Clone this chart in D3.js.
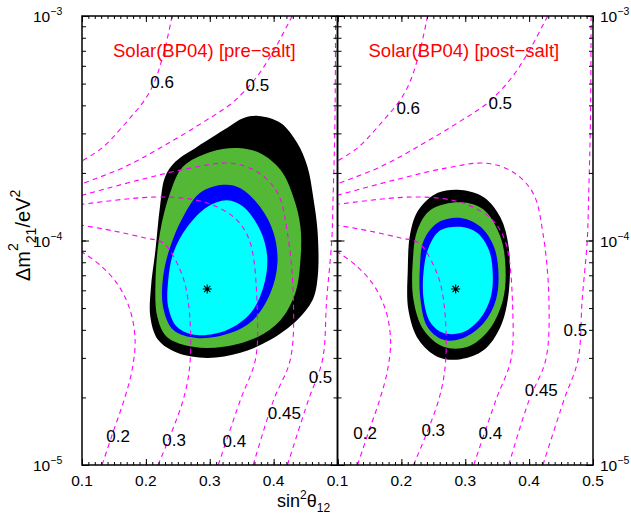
<!DOCTYPE html>
<html>
<head>
<meta charset="utf-8">
<script src="https://cdn.jsdelivr.net/npm/d3@7"></script>
<style>
body { margin: 0; background: #fff; }
svg text { font-family: "Liberation Sans", Arial, Helvetica, sans-serif; }
</style>
</head>
<body>
<svg id="chart" width="631" height="515"></svg>
<script>
/* === Solar allowed regions, pre/post salt (D3 v7) === */

// x = sin^2(theta12), y = dm^2_21 in units of 1e-5 eV^2
var PANEL_TITLES = ['Solar(BP04) [pre\u2212salt]', 'Solar(BP04) [post\u2212salt]'];
var X_LABELS = [[0.1, 0.2, 0.3, 0.4], [0.1, 0.2, 0.3, 0.4, 0.5]];
var Y_LABELS = [1e-5, 1e-4, 1e-3];
var Y_EXP = ['\u22125', '\u22124', '\u22123'];
var BEST_FIT = [[0.296, 6.08], [0.285, 6.08]];

// allowed regions, pre-salt (99.73, 99, 95, 90 % CL)
var PRE_9973 = [[0.376,35.9],[0.411,33.4],[0.437,27.2],[0.453,21.3],[0.462,15.6],[0.469,10.8],[0.469,6.88],[0.461,5.43],[0.437,4.43],[0.395,3.61],[0.348,3.16],[0.296,3.00],[0.249,3.16],[0.219,3.61],[0.207,4.56],[0.208,6.21],[0.215,9.07],[0.222,14.1],[0.230,19.2],[0.246,22.4],[0.280,26.1],[0.327,31.7],[0.353,35.1]];
var PRE_99 = [[0.343,25.8],[0.379,24.5],[0.411,20.6],[0.431,15.6],[0.442,11.5],[0.442,8.19],[0.434,5.84],[0.411,4.43],[0.375,3.72],[0.321,3.36],[0.274,3.36],[0.233,3.72],[0.218,4.56],[0.215,6.47],[0.222,10.8],[0.238,16.3],[0.258,21.3],[0.301,24.8]];
var PRE_95 = [[0.321,17.7],[0.348,17.1],[0.379,14.1],[0.400,10.8],[0.406,7.94],[0.395,5.84],[0.368,4.43],[0.332,3.87],[0.280,3.68],[0.243,3.99],[0.227,5.06],[0.227,6.88],[0.238,9.35],[0.258,12.7],[0.285,16.3]];
var PRE_90 = [[0.327,15.1],[0.353,14.1],[0.379,11.1],[0.390,8.44],[0.384,6.21],[0.364,4.75],[0.327,3.99],[0.280,3.79],[0.249,4.12],[0.235,5.06],[0.235,6.67],[0.243,8.80],[0.265,11.5],[0.296,14.1]];

// allowed regions, post-salt
var POST_9973 = [[0.293,16.8],[0.329,15.6],[0.355,12.7],[0.368,9.35],[0.368,5.84],[0.355,4.12],[0.329,3.25],[0.293,2.96],[0.257,3.03],[0.227,3.61],[0.211,4.90],[0.210,7.39],[0.214,10.8],[0.227,13.7],[0.257,16.3]];
var POST_99 = [[0.293,14.8],[0.329,13.7],[0.355,10.4],[0.363,7.62],[0.359,5.43],[0.337,3.99],[0.304,3.36],[0.266,3.36],[0.235,3.99],[0.219,5.43],[0.218,8.19],[0.225,11.1],[0.246,13.7]];
var POST_95 = [[0.293,12.6],[0.324,11.5],[0.345,9.35],[0.352,7.17],[0.348,5.43],[0.329,4.29],[0.297,3.68],[0.266,3.61],[0.241,4.12],[0.230,5.43],[0.229,7.62],[0.235,10.0],[0.257,12.0]];
var POST_90 = [[0.293,11.5],[0.319,10.8],[0.337,9.07],[0.343,7.17],[0.340,5.60],[0.324,4.52],[0.297,3.91],[0.266,3.87],[0.246,4.29],[0.235,5.43],[0.235,7.39],[0.243,9.35],[0.261,11.1]];

var CL_COLORS = ['#000000', '#52b836', '#0000ff', '#00ffff'];

// iso-contours (dashed)
var ISO_060 = [[0.241,100],[0.2255,64.3],[0.205,45.4],[0.1627,32.0],[0.131,25.8],[0.1,22.6]];
var ISO_050_TOP = [[0.429,100],[0.398,68.4],[0.371,52.4],[0.335,41.0],[0.293,34.1],[0.230,26.6],[0.1675,21.3],[0.1,17.9]];
var ISO_050_RIGHT = [[0.4216,1.0],[0.4545,1.948],[0.4765,2.94],[0.483,5.43],[0.491,10.0],[0.493,15.1],[0.496,34.4],[0.497,100]];
var ISO_045 = [[0.368,1.0],[0.400,1.948],[0.426,2.94],[0.431,5.43],[0.4216,10.8],[0.406,16.3],[0.3745,20.2],[0.332,22.1],[0.2694,21.0],[0.1894,18.6],[0.1,15.9]];
var ISO_040 = [[0.3133,1.0],[0.348,1.948],[0.3714,2.94],[0.3745,4.75],[0.3635,9.75],[0.343,12.3],[0.312,14.1],[0.280,15.1],[0.238,15.6],[0.191,15.5],[0.1,14.5]];
var ISO_030 = [[0.219,1.0],[0.2584,1.948],[0.2694,2.94],[0.266,5.43],[0.2537,7.39],[0.227,9.75],[0.1988,10.26],[0.1518,11.0],[0.1,11.7]];
var ISO_020 = [[0.1314,1.0],[0.1486,1.40],[0.1659,1.948],[0.1784,2.65],[0.1831,3.61],[0.1753,4.90],[0.1565,6.34],[0.1282,7.78],[0.1,8.89]];

// iso labels: text, [sin2, dm2] for each panel
var ISO_TEXT = ['0.6', '0.5', '0.5', '0.45', '0.4', '0.3', '0.2'];
var ISO_AT_PRE = [[0.2255,50.8],[0.3745,49.3],[0.4733,2.47],[0.4169,1.71],[0.3384,1.28],[0.2443,1.29],[0.1565,1.35]];
var ISO_AT_POST = [[0.2107,38.9],[0.3548,41.0],[0.4723,3.99],[0.419,2.16],[0.3392,1.39],[0.2499,1.43],[0.1433,1.39]];

var svg = d3.select('#chart');
var defs = svg.append('defs');

var y = d3.scaleLog().domain([1e-5, 1e-3]).range([465, 16]);
var panelRanges = [[82, 337.5], [337.5, 593]];
var regions = [[PRE_9973, PRE_99, PRE_95, PRE_90], [POST_9973, POST_99, POST_95, POST_90]];
var isoCurves = [ISO_060, ISO_050_TOP, ISO_050_RIGHT, ISO_045, ISO_040, ISO_030, ISO_020];
var isoAt = [ISO_AT_PRE, ISO_AT_POST];

panelRanges.forEach(function(range, i) {
    var x = d3.scaleLinear().domain([0.1, 0.5]).range(range);
    var clipId = 'clip' + i;
    defs.append('clipPath').attr('id', clipId).append('rect')
        .attr('x', range[0]).attr('y', 16)
        .attr('width', range[1] - range[0]).attr('height', 449);

    var g = svg.append('g');
    var inner = g.append('g').attr('clip-path', 'url(#' + clipId + ')');

    var area = d3.line()
        .x(function(d) { return x(d[0]); })
        .y(function(d) { return y(d[1] * 1e-5); })
        .curve(d3.curveCatmullRomClosed.alpha(0.5));
    var open = d3.line()
        .x(function(d) { return x(d[0]); })
        .y(function(d) { return y(d[1] * 1e-5); })
        .curve(d3.curveCatmullRom.alpha(0.5));

    // filled CL regions
    inner.selectAll('path.cl')
        .data(regions[i])
        .join('path')
        .attr('class', 'cl')
        .attr('d', area)
        .attr('fill', function(d, k) { return CL_COLORS[k]; });

    // dashed iso lines
    inner.selectAll('path.iso')
        .data(isoCurves)
        .join('path')
        .attr('class', 'iso')
        .attr('d', open)
        .attr('fill', 'none')
        .attr('stroke', '#ff00ff')
        .attr('stroke-width', 1.1)
        .attr('stroke-dasharray', '5,4');

    // iso labels
    g.selectAll('text.iso-label')
        .data(isoAt[i])
        .join('text')
        .attr('class', 'iso-label')
        .attr('x', function(d) { return x(d[0]); })
        .attr('y', function(d) { return y(d[1] * 1e-5); })
        .attr('dy', '0.36em')
        .attr('text-anchor', 'middle')
        .style('font-size', '17px')
        .text(function(d, k) { return ISO_TEXT[k]; });

    // best fit star
    var bx = x(BEST_FIT[i][0]), by = y(BEST_FIT[i][1] * 1e-5);
    var p = d3.path();
    for (var a = 0; a < 4; a++) {
        var ang = a * Math.PI / 4;
        p.moveTo(bx - 4.5 * Math.cos(ang), by - 4.5 * Math.sin(ang));
        p.lineTo(bx + 4.5 * Math.cos(ang), by + 4.5 * Math.sin(ang));
    }
    g.append('path').attr('d', p.toString()).attr('stroke', '#000').attr('stroke-width', 1.1);
    g.append('circle').attr('cx', bx).attr('cy', by).attr('r', 1.6).attr('fill', '#000');

    // title
    g.append('text')
        .attr('x', range[0] + 31)
        .attr('y', 57)
        .attr('fill', '#ff0000')
        .style('font-size', '18.5px')
        .text(PANEL_TITLES[i]);

    // ticks (inward)
    var minorX = d3.range(10, 51).map(function(v) { return v / 100; });
    var majorX = [0.1, 0.2, 0.3, 0.4, 0.5];
    var ticks = g.append('g');
    function addAxis(axis, tx, ty) {
        var a = ticks.append('g').attr('transform', 'translate(' + tx + ',' + ty + ')').call(axis);
        a.select('.domain').remove();
        a.selectAll('line').attr('stroke-width', 1);
    }
    addAxis(d3.axisBottom(x).tickValues(minorX).tickSize(-3).tickFormat(''), 0, 465);
    addAxis(d3.axisBottom(x).tickValues(majorX).tickSize(-6).tickFormat(''), 0, 465);
    addAxis(d3.axisTop(x).tickValues(minorX).tickSize(-3).tickFormat(''), 0, 16);
    addAxis(d3.axisTop(x).tickValues(majorX).tickSize(-6).tickFormat(''), 0, 16);
    addAxis(d3.axisLeft(y).tickValues(y.ticks()).tickSize(-4).tickFormat(''), range[0], 0);
    addAxis(d3.axisLeft(y).tickValues(Y_LABELS).tickSize(-7).tickFormat(''), range[0], 0);
    addAxis(d3.axisRight(y).tickValues(y.ticks()).tickSize(-4).tickFormat(''), range[1], 0);
    addAxis(d3.axisRight(y).tickValues(Y_LABELS).tickSize(-7).tickFormat(''), range[1], 0);

    // frame
    g.append('rect')
        .attr('x', range[0]).attr('y', 16)
        .attr('width', range[1] - range[0]).attr('height', 449)
        .attr('fill', 'none').attr('stroke', '#000').attr('stroke-width', 1.5);

    // x tick labels
    g.selectAll('text.xt')
        .data(X_LABELS[i])
        .join('text')
        .attr('class', 'xt')
        .attr('x', function(d) { return x(d); })
        .attr('y', 486)
        .attr('text-anchor', 'middle')
        .style('font-size', '15.5px')
        .text(function(d) { return d3.format('.1f')(d); });
});

// y tick labels, both outer sides
[33, 600].forEach(function(lx) {
    Y_LABELS.forEach(function(v, k) {
        var t = svg.append('text')
            .attr('x', lx)
            .attr('y', y(v) + 6)
            .style('font-size', '15.5px');
        t.append('tspan').text('10');
        t.append('tspan').attr('dy', -7).style('font-size', '10.5px').text(Y_EXP[k]);
    });
});

// x axis title
var xt = svg.append('text').attr('x', 277).attr('y', 507).style('font-size', '18px');
xt.append('tspan').text('sin');
xt.append('tspan').attr('dy', -8).style('font-size', '12px').text('2');
xt.append('tspan').attr('dy', 8).text('\u03b8');
xt.append('tspan').attr('dy', 5).style('font-size', '12px').text('12');

// y axis title
var yt = svg.append('text')
    .attr('transform', 'translate(30,281) rotate(-90)')
    .style('font-size', '20px');
yt.append('tspan').text('\u0394m');
yt.append('tspan').attr('dy', -12).style('font-size', '14px').text('2');
yt.append('tspan').attr('dy', 18).style('font-size', '14px').text('21');
yt.append('tspan').attr('dy', -6).text('/eV');
yt.append('tspan').attr('dy', -10).style('font-size', '14px').text('2');
</script>
</body>
</html>
